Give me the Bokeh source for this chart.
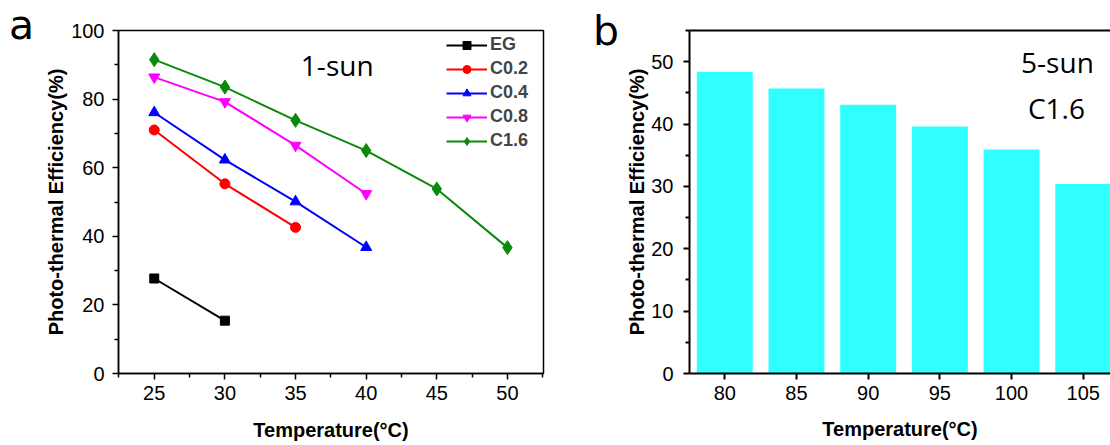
from bokeh.plotting import figure
from bokeh.layouts import row
from bokeh.models import FixedTicker, Legend, LegendItem, Label, LinearAxis, Range1d, Div
from bokeh.embed import file_html
from bokeh.resources import INLINE

# ---------------- data ----------------
temps_a = [25, 30, 35, 40, 45, 50]
eg = [27.7, 15.4]
c02 = [71.0, 55.3, 42.6]
c04 = [76.1, 62.3, 50.1, 36.8]
c08 = [86.4, 79.2, 66.5, 52.4]
c16 = [91.5, 83.5, 73.8, 65.0, 53.8, 36.7]
series_names = ["EG", "C0.2", "C0.4", "C0.8", "C1.6"]

temps_b = [80, 85, 90, 95, 100, 105]
eff_b = [48.4, 45.7, 43.1, 39.6, 35.9, 30.4]

xticks_a = [25, 30, 35, 40, 45, 50]
xminor_a = [22.5, 27.5, 32.5, 37.5, 42.5, 47.5, 52.5]
yticks_a = [0, 20, 40, 60, 80, 100]
yminor_a = [10, 30, 50, 70, 90]
xticks_b = [80, 85, 90, 95, 100, 105]
yticks_b = [0, 10, 20, 30, 40, 50]
yminor_b = [5, 15, 25, 35, 45, 55]

x_title = "Temperature(°C)"
y_title = "Photo-thermal Efficiency(%)"
panel_letters = ["a", "b"]

TICK_FONT = "Liberation Sans"
H = 445


def style_axis(ax, lw=1.5):
    ax.axis_line_color = "black"
    ax.axis_line_width = lw
    ax.major_tick_line_color = "black"
    ax.major_tick_line_width = lw
    ax.minor_tick_line_color = "black"
    ax.minor_tick_line_width = lw
    ax.major_tick_in = 0
    ax.major_tick_out = 6
    ax.minor_tick_in = 0
    ax.minor_tick_out = 4
    ax.major_label_text_font = TICK_FONT
    ax.major_label_text_font_size = "20px"
    ax.major_label_text_color = "black"
    ax.major_label_standoff = 6
    ax.axis_label_text_font = TICK_FONT
    ax.axis_label_text_font_style = "bold"
    ax.axis_label_text_font_size = "20px"
    ax.axis_label_text_color = "black"


def letter_div(width, letter, pad_left, pad_top):
    html = ('<span style="display:block;font-family:\'DejaVu Sans\';font-size:41px;'
            'line-height:42px;color:black;padding-left:%dpx;padding-top:%dpx;">%s</span>'
            % (pad_left, pad_top, letter))
    return Div(text=html, width=width, height=H, margin=0)


# ---------------- panel a ----------------
la = letter_div(40, panel_letters[0], 9, 4)

p1 = figure(width=520, height=H, x_range=Range1d(22.47, 52.55), y_range=Range1d(0, 100),
            output_backend="svg", toolbar_location=None,
            min_border_left=78, min_border_right=17, min_border_top=30, min_border_bottom=72)
p1.grid.visible = False
p1.outline_line_color = "black"
p1.outline_line_width = 1.5
p1.outline_line_alpha = 1.0

p1.xaxis.ticker = FixedTicker(ticks=xticks_a, minor_ticks=xminor_a)
p1.yaxis.ticker = FixedTicker(ticks=yticks_a, minor_ticks=yminor_a)
style_axis(p1.xaxis[0])
style_axis(p1.yaxis[0])
p1.xaxis.axis_label = x_title
p1.yaxis.axis_label = y_title
p1.yaxis.major_label_standoff = 8
p1.xaxis.axis_label_standoff = 16
p1.yaxis.axis_label_standoff = 1

specs = [
    (eg, "black", "square", 9),
    (c02, "#FF0000", "circle", 10),
    (c04, "#0000FF", "triangle", 11),
    (c08, "#FF00FF", "inverted_triangle", 11),
    (c16, "#0A8A0A", "diamond", 14),
]
items = []
for name, (vals, col, mk, sz) in zip(series_names, specs):
    xs = temps_a[:len(vals)]
    ln = p1.line(xs, vals, line_color=col, line_width=2)
    sc = p1.scatter(xs, vals, marker=mk, size=sz, fill_color=col, line_color=col)
    items.append(LegendItem(label=name, renderers=[ln, sc]))

legend = Legend(items=items, location=(328, 222), glyph_width=41, glyph_height=20,
                label_height=20, label_standoff=3, spacing=3, padding=0, margin=0,
                border_line_color=None, background_fill_alpha=0,
                label_text_font=TICK_FONT, label_text_font_style="bold",
                label_text_font_size="18px")
p1.add_layout(legend)

p1.add_layout(Label(x=37.95, y=89.9, text="1-sun", text_font="Open Sans", text_font_size="28px",
                    text_align="center", text_baseline="alphabetic", text_color="black"))

# ---------------- panel b ----------------
lb = letter_div(60, panel_letters[1], 33, 10)

p2 = figure(width=490, height=H, x_range=Range1d(77.54, 106.9), y_range=Range1d(0, 55),
            output_backend="svg", toolbar_location=None,
            min_border_left=69, min_border_right=0, min_border_top=29, min_border_bottom=70)
p2.grid.visible = False
p2.outline_line_color = None

p2.vbar(x=temps_b, top=eff_b, width=3.9, fill_color="#30FFFF", line_color=None)

p2.xaxis.ticker = FixedTicker(ticks=xticks_b, minor_ticks=[])
p2.yaxis.ticker = FixedTicker(ticks=yticks_b, minor_ticks=yminor_b)
style_axis(p2.xaxis[0], lw=2)
style_axis(p2.yaxis[0], lw=2)
p2.xaxis.axis_label = x_title
p2.yaxis.axis_label = y_title
p2.yaxis.major_label_standoff = 10
p2.xaxis.axis_label_standoff = 15
p2.yaxis.axis_label_standoff = 0

top_ax = LinearAxis(ticker=FixedTicker(ticks=[]), axis_line_width=2, axis_line_color="black",
                    major_tick_line_color=None, minor_tick_line_color=None,
                    major_label_text_color=None)
p2.add_layout(top_ax, "above")

p2.add_layout(Label(x=103.2, y=50.0, text="5-sun", text_font="Open Sans", text_font_size="28px",
                    text_align="center", text_baseline="alphabetic", text_color="black"))
p2.add_layout(Label(x=103.13, y=42.6, text="C1.6", text_font="Open Sans", text_font_size="28px",
                    text_align="center", text_baseline="alphabetic", text_color="black"))

layout = row(la, p1, lb, p2, spacing=0)
open("out.html", "w").write(file_html(layout, INLINE))
